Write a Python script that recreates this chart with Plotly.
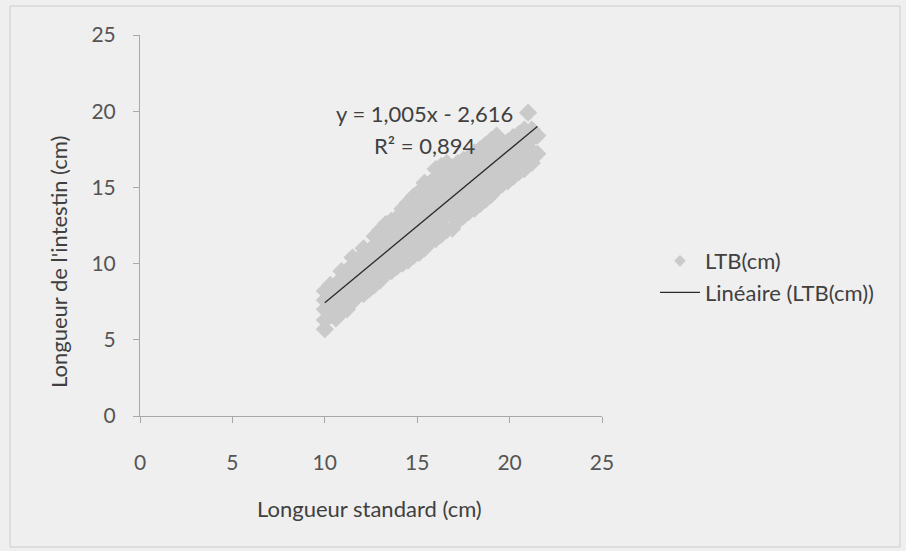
import plotly.graph_objects as go

# ---- data ----
x_vals = [
    10.0, 10.0, 10.0, 10.0, 10.0,
    10.3, 10.3, 10.3, 10.3,
    10.6, 10.6, 10.6, 10.6,
    10.9, 10.9, 10.9, 10.9, 10.9,
    11.2, 11.2, 11.2, 11.2,
    11.5, 11.5, 11.5, 11.5, 11.5,
    11.8, 11.8, 11.8, 11.8,
    12.1, 12.1, 12.1, 12.1, 12.1,
    12.4, 12.4, 12.4, 12.4,
    12.7, 12.7, 12.7, 12.7, 12.7,
    13.0, 13.0, 13.0, 13.0, 13.0,
    13.3, 13.3, 13.3, 13.3, 13.3,
    13.6, 13.6, 13.6, 13.6, 13.6,
    13.9, 13.9, 13.9, 13.9, 13.9,
    14.2, 14.2, 14.2, 14.2, 14.2,
    14.5, 14.5, 14.5, 14.5, 14.5,
    14.8, 14.8, 14.8, 14.8, 14.8,
    15.1, 15.1, 15.1, 15.1, 15.1,
    15.4, 15.4, 15.4, 15.4, 15.4, 15.4,
    15.7, 15.7, 15.7, 15.7, 15.7,
    16.0, 16.0, 16.0, 16.0, 16.0, 16.0,
    16.3, 16.3, 16.3, 16.3, 16.3, 16.3,
    16.6, 16.6, 16.6, 16.6, 16.6, 16.6,
    16.9, 16.9, 16.9, 16.9, 16.9,
    17.2, 17.2, 17.2, 17.2, 17.2,
    17.5, 17.5, 17.5, 17.5, 17.5,
    17.8, 17.8, 17.8, 17.8, 17.8,
    18.1, 18.1, 18.1, 18.1, 18.1,
    18.4, 18.4, 18.4, 18.4, 18.4,
    18.7, 18.7, 18.7, 18.7, 18.7,
    19.0, 19.0, 19.0, 19.0, 19.0,
    19.3, 19.3, 19.3, 19.3, 19.3,
    19.6, 19.6, 19.6, 19.6,
    19.9, 19.9, 19.9, 19.9,
    20.2, 20.2, 20.2, 20.2,
    20.5, 20.5, 20.5, 20.5,
    20.8, 20.8, 20.8, 20.8,
    21.0,
    21.2, 21.2, 21.2, 21.2,
    21.5, 21.5,
]
y_vals = [
    5.7, 6.3, 7.0, 7.6, 8.2,
    6.6, 7.3, 8.0, 8.6,
    6.4, 7.0, 7.7, 8.5,
    6.8, 7.5, 8.2, 9.0, 9.5,
    7.0, 7.8, 8.6, 9.4,
    7.5, 8.3, 9.1, 9.9, 10.4,
    7.9, 8.7, 9.5, 10.3,
    8.0, 8.8, 9.6, 10.5, 11.0,
    8.3, 9.2, 10.0, 10.8,
    8.6, 9.5, 10.4, 11.2, 11.8,
    8.9, 9.8, 10.6, 11.5, 12.2,
    9.3, 10.2, 11.0, 11.8, 12.6,
    9.5, 10.4, 11.3, 12.1, 12.8,
    9.8, 10.7, 11.6, 12.4, 13.0,
    10.0, 11.0, 11.9, 12.8, 13.6,
    10.2, 11.2, 12.1, 13.0, 14.0,
    10.5, 11.5, 12.5, 13.4, 14.4,
    10.7, 11.7, 12.7, 13.7, 14.7,
    11.0, 12.0, 13.0, 14.0, 14.9, 15.3,
    11.4, 12.4, 13.3, 14.3, 15.3,
    11.6, 12.6, 13.6, 14.6, 15.6, 16.2,
    11.9, 12.9, 13.9, 14.9, 15.9, 16.4,
    12.2, 13.2, 14.2, 15.2, 16.1, 16.6,
    12.3, 13.4, 14.4, 15.4, 16.3,
    12.8, 13.7, 14.8, 15.8, 16.6,
    13.1, 14.0, 15.0, 16.0, 16.8,
    13.4, 14.4, 15.4, 16.4, 17.0,
    13.6, 14.7, 15.7, 16.6, 17.3,
    13.9, 14.9, 15.9, 16.9, 17.5,
    14.2, 15.2, 16.2, 17.1, 17.8,
    14.5, 15.5, 16.4, 17.3, 18.1,
    14.9, 15.8, 16.7, 17.6, 18.4,
    15.2, 16.1, 17.0, 17.8,
    15.4, 16.4, 17.3, 18.0,
    15.7, 16.6, 17.5, 18.3,
    16.0, 16.9, 17.8, 18.5,
    16.2, 17.2, 18.0, 18.8,
    19.9,
    16.6, 17.4, 18.2, 18.8,
    17.2, 18.4,
]

slope = 1.005
intercept = -2.616
r_squared = 0.894

series_name = "LTB(cm)"
trend_name = "Linéaire (LTB(cm))"
x_title = "Longueur standard (cm)"
y_title = "Longueur de l'intestin (cm)"
tick_vals = [0, 5, 10, 15, 20, 25]

# ---- trend line from the fitted coefficients ----
tx = [min(x_vals), max(x_vals)]
ty = [slope * v + intercept for v in tx]

font_family = "Lato, 'Open Sans', sans-serif"
tick_color = "#555555"
title_color = "#404040"
marker_color = "#cacaca"

fig = go.Figure()
fig.add_trace(go.Scatter(
    x=x_vals, y=y_vals, mode="markers", name=series_name, showlegend=False,
    marker=dict(symbol="diamond", size=14, color=marker_color, line=dict(width=0)),
))
# legend entry for the scatter (smaller symbol, as in the original legend)
fig.add_trace(go.Scatter(
    x=[None], y=[None], mode="markers", name=series_name,
    marker=dict(symbol="diamond", size=9, color=marker_color, line=dict(width=0)),
))
fig.add_trace(go.Scatter(
    x=tx, y=ty, mode="lines", name=trend_name,
    line=dict(color="#2a2a2a", width=1.3),
))

def fmt(v, d):
    return f"{abs(v):.{d}f}".replace(".", ",")

eq_text = f"y = {fmt(slope, 3)}x - {fmt(intercept, 3)}"
r2_text = f"R² = {fmt(r_squared, 3)}"

fig.add_annotation(x=15.37, y=19.88, text=eq_text, showarrow=False,
                   font=dict(family=font_family, size=22, color=title_color))
fig.add_annotation(x=15.37, y=17.78, text=r2_text, showarrow=False,
                   font=dict(family=font_family, size=22, color=title_color))

# axis titles
fig.add_annotation(xref="paper", yref="paper", x=(369 - 140) / 462, y=(416 - 508) / 381,
                   text=x_title, showarrow=False, xanchor="center", yanchor="middle",
                   font=dict(family=font_family, size=22, color=title_color))
fig.add_annotation(xref="paper", yref="paper", x=(58 - 140) / 462, y=(416 - 262) / 381,
                   text=y_title, showarrow=False, textangle=-90,
                   xanchor="center", yanchor="middle",
                   font=dict(family=font_family, size=22, color=title_color))

axis_common = dict(
    range=[0, 25], tickvals=tick_vals, showgrid=False, zeroline=False,
    showline=True, linecolor="#a8a8a8", linewidth=1,
    ticks="outside", ticklen=6, tickcolor="#a8a8a8",
    tickfont=dict(family=font_family, size=21, color=tick_color),
)

fig.update_xaxes(**axis_common, ticklabelstandoff=22)
fig.update_yaxes(**axis_common, ticklabelstandoff=13)

fig.update_layout(
    width=906, height=551,
    margin=dict(l=140, r=304, t=35, b=135),
    paper_bgcolor="#efefef", plot_bgcolor="#efefef",
    legend=dict(x=(655 - 140) / 462, y=(416 - 277) / 381, xanchor="left", yanchor="middle",
                font=dict(family=font_family, size=22, color=title_color),
                bgcolor="rgba(0,0,0,0)", itemwidth=40),
    showlegend=True,
    shapes=[dict(type="rect", xref="paper", yref="paper",
                 x0=(10 - 140) / 462, x1=(900 - 140) / 462,
                 y0=(416 - 547) / 381, y1=(416 - 6) / 381,
                 line=dict(color="#cccccc", width=1))],
)

fig.write_html("out.html")
